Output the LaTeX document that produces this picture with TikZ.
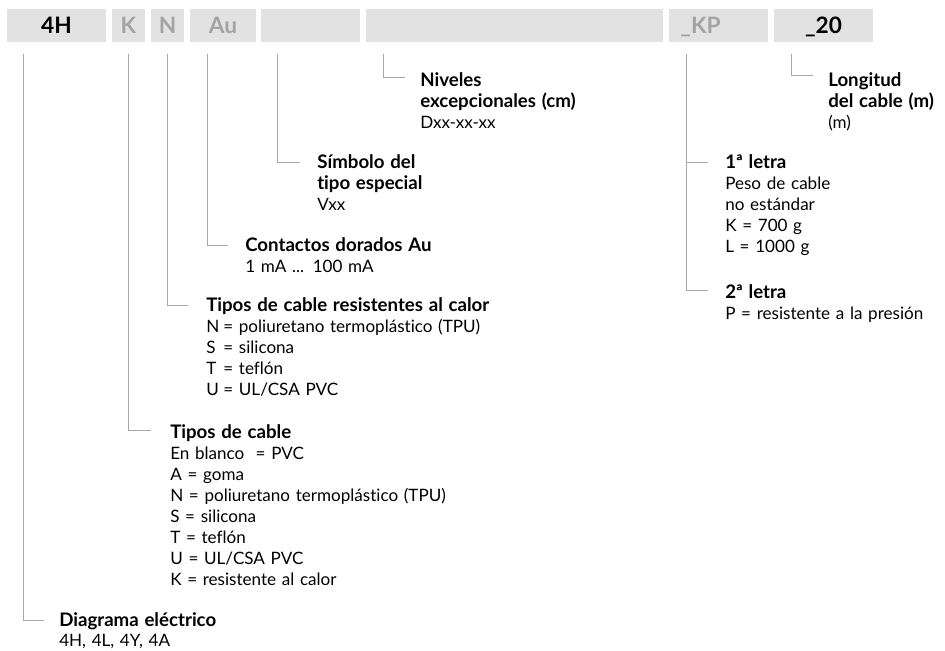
\documentclass[tikz,border=0pt]{standalone}
\usepackage{fontspec}
\setmainfont{Lato}[Ligatures=NoCommon]
\definecolor{boxgray}{HTML}{E2E2E2}
\definecolor{txtgray}{HTML}{A3A3A3}
\definecolor{linegray}{HTML}{A8A8A8}
\newcommand{\eqlbl}[1]{\makebox[1.0em][l]{#1}}
\newcommand{\hd}[1]{{\fontsize{14}{15.75}\selectfont\bfseries #1}}
\begin{document}
\begin{tikzpicture}[x=0.75pt,y=-0.75pt,
  codebox/.style={fill=boxgray, draw=none, minimum height=24.75pt, inner sep=0pt,
    font=\fontsize{17}{17}\selectfont\bfseries, text height=12.2pt, text depth=0pt},
  graytxt/.style={text=txtgray},
  conn/.style={draw=linegray, line width=0.75pt},
  desc/.style={anchor=base west, inner sep=0pt, text width=300pt, align=left,
    font=\fontsize{12.8}{15.75}\selectfont},
]
\useasboundingbox (0,0) rectangle (945,650);

% code boxes
\node[codebox, minimum width=74.25pt] (b1) at (56.5,25.5) {4H};
\node[codebox, graytxt, minimum width=24.75pt] (b2) at (128.5,25.5) {K};
\node[codebox, graytxt, minimum width=24.75pt] (b3) at (167.5,25.5) {N};
\node[codebox, graytxt, minimum width=49.5pt] (b4) at (223,25.5) {Au};
\node[codebox, minimum width=74.25pt] (b5) at (310.5,25.5) {};
\node[codebox, minimum width=222.75pt] (b6) at (514.5,25.5) {};
\node[codebox, graytxt, minimum width=74.25pt] (b7) at (718.5,25.5) {\_KP\kern27pt};
\node[codebox, minimum width=74.25pt] (b8) at (823.5,25.5) {\_20};

% connector start and end points
\coordinate (c1) at (23,54);   \coordinate (e1) at (44,620);
\coordinate (c2) at (128,54);  \coordinate (e2) at (151,430);
\coordinate (c3) at (167,54);  \coordinate (e3) at (188,305);
\coordinate (c4) at (207,54);  \coordinate (e4) at (228,245);
\coordinate (c5) at (277,54);  \coordinate (e5) at (300,162);
\coordinate (c6) at (383,54);  \coordinate (e6) at (405,77);
\coordinate (c7) at (686,54);  \coordinate (e7) at (708,290);
\coordinate (k1) at (686,162); \coordinate (e8) at (708,162);
\coordinate (c8) at (791,54);  \coordinate (e9) at (813,75);

\draw[conn] (c1) |- (e1);
\draw[conn] (c2) |- (e2);
\draw[conn] (c3) |- (e3);
\draw[conn] (c4) |- (e4);
\draw[conn] (c5) |- (e5);
\draw[conn] (c6) |- (e6);
\draw[conn] (c7) |- (e7);
\draw[conn] (k1) -- (e8);
\draw[conn] (c8) |- (e9);

% descriptions
\node[desc, font=\fontsize{12.8}{15}\selectfont] (t1) at (59,626) {\hd{Diagrama eléctrico}\\4H, 4L, 4Y, 4A};
\node[desc] (t2) at (170,438) {\hd{Tipos de cable}\\En blanco\ \ = PVC\\A = goma\\N = poliuretano termoplástico (TPU)\\S = silicona\\T = teflón\\U = UL/CSA PVC\\K = resistente al calor};
\node[desc] (t3) at (206,311) {\hd{Tipos de cable resistentes al calor}\\\eqlbl{N}= poliuretano termoplástico (TPU)\\\eqlbl{S}= silicona\\\eqlbl{T}= teflón\\\eqlbl{U}= UL/CSA PVC};
\node[desc] (t4) at (245,251) {\hd{Contactos dorados Au}\\1 mA ... 100 mA};
\node[desc] (t5) at (317,168) {\hd{Símbolo del}\\\hd{tipo especial}\\Vxx};
\node[desc] (t6) at (420,86) {\hd{Niveles}\\\hd{excepcionales (cm)}\\Dxx-xx-xx};
\node[desc] (t7) at (828,86) {\hd{Longitud}\\\hd{del cable (m)}\\(m)};
\node[desc] (t8) at (725,168) {\hd{1ª letra}\\Peso de cable\\no estándar\\K = 700 g\\L = 1000 g};
\node[desc] (t9) at (725,298) {\hd{2ª letra}\\P = resistente a la presión};
\end{tikzpicture}
\end{document}
